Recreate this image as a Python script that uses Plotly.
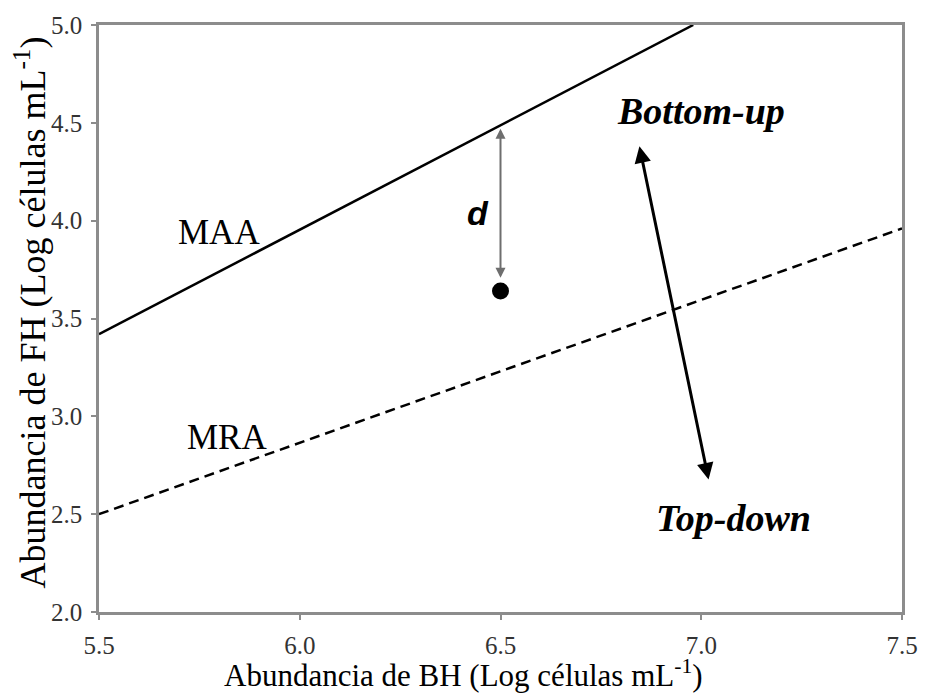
import plotly.graph_objects as go

# Regression lines (log abundances)
maa_x = [5.5, 6.98]
maa_y = [3.42, 5.0]
mra_x = [5.5, 7.5]
mra_y = [2.5, 3.96]

# Observed sample
point_x = [6.5]
point_y = [3.64]

# Distance d from the sample to the MAA line
d_x = 6.5
d_top = 4.47
d_bottom = 3.70

# Bottom-up / top-down control arrow
ctrl_top = (6.846, 4.38)
ctrl_bottom = (7.019, 2.67)

x_ticks = [5.5, 6.0, 6.5, 7.0, 7.5]
y_ticks = [2.0, 2.5, 3.0, 3.5, 4.0, 4.5, 5.0]

serif = "Liberation Serif, Times New Roman, serif"

fig = go.Figure()
fig.add_trace(go.Scatter(x=maa_x, y=maa_y, mode="lines",
                         line=dict(color="black", width=2.5), showlegend=False))
fig.add_trace(go.Scatter(x=mra_x, y=mra_y, mode="lines",
                         line=dict(color="black", width=2.5, dash="10px,6px"), showlegend=False))
fig.add_trace(go.Scatter(x=point_x, y=point_y, mode="markers",
                         marker=dict(color="black", size=17), showlegend=False))

annotations = [
    # d arrow (double headed, grey)
    dict(x=d_x, y=d_top, ax=d_x, ay=d_bottom, xref="x", yref="y", axref="x", ayref="y",
         text="", showarrow=True, arrowhead=2, arrowsize=1, arrowwidth=2,
         arrowside="end+start", arrowcolor="#6e6e6e"),
    # control arrow (double headed, black)
    dict(x=ctrl_top[0], y=ctrl_top[1], ax=ctrl_bottom[0], ay=ctrl_bottom[1],
         xref="x", yref="y", axref="x", ayref="y",
         text="", showarrow=True, arrowhead=2, arrowsize=1.1, arrowwidth=3,
         arrowside="end+start", arrowcolor="black"),
    dict(x=5.80, y=3.94, text="MAA", showarrow=False,
         font=dict(family=serif, size=35, color="black")),
    dict(x=5.82, y=2.89, text="MRA", showarrow=False,
         font=dict(family=serif, size=35, color="black")),
    dict(x=6.445, y=4.04, text="<b><i>d</i></b>", showarrow=False,
         font=dict(family="Liberation Sans, Arial, sans-serif", size=34, color="black")),
    dict(x=7.0, y=4.56, text="<b><i>Bottom-up</i></b>", showarrow=False,
         font=dict(family=serif, size=38, color="black")),
    dict(x=7.08, y=2.48, text="<b><i>Top-down</i></b>", showarrow=False,
         font=dict(family=serif, size=38, color="black")),
    # axis titles
    dict(x=0.454, y=-0.105, xref="paper", yref="paper", showarrow=False,
         xanchor="center", yanchor="middle",
         text="Abundancia de BH (Log células mL<sup>-1</sup>)",
         font=dict(family=serif, size=31, color="black")),
    dict(x=-0.085, y=0.51, xref="paper", yref="paper", showarrow=False,
         xanchor="center", yanchor="middle", textangle=-90,
         text="Abundancia de FH (Log células mL<sup>-1</sup>)",
         font=dict(family=serif, size=36, color="black")),
]

axis_common = dict(
    showgrid=False, zeroline=False, showline=True, mirror=True,
    linecolor="#8c8c8c", linewidth=2.5,
    ticks="outside", ticklen=5, tickwidth=1.5, tickcolor="#8c8c8c",
    tickfont=dict(family=serif, size=25, color="#333333"),
    ticklabelstandoff=4,
)

fig.update_layout(
    width=930, height=700,
    margin=dict(l=99, r=20, t=24, b=88),
    plot_bgcolor="white", paper_bgcolor="white",
    annotations=annotations,
    xaxis=dict(range=[5.5, 7.5], tickvals=x_ticks, ticktext=[f"{v:.1f}" for v in x_ticks],
               **axis_common),
    yaxis=dict(range=[2.0, 5.0], tickvals=y_ticks, ticktext=[f"{v:.1f}" for v in y_ticks],
               **axis_common),
)

fig.write_html("out.html")
